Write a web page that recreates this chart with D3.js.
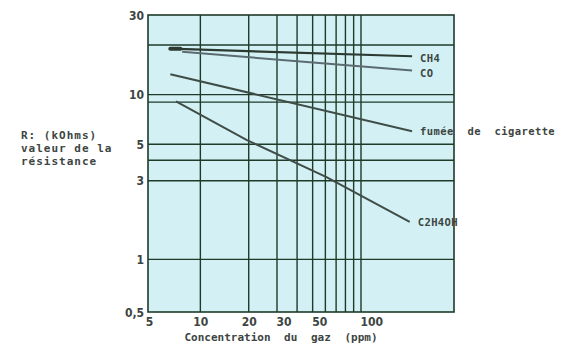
<!DOCTYPE html>
<html>
<head>
<meta charset="utf-8">
<script src="https://cdn.jsdelivr.net/npm/d3@7"></script>
<style>
	body { margin: 0; background: #fff; }
	svg { display: block; }
</style>
</head>
<body>
<svg id="chart" width="574" height="349"></svg>
<script>

// Data

var gasNames = ["CH4", "CO", "fumée de cigarette", "C2H4OH"];

var ch4Conc = [6.5, 208];
var ch4Res = [19.0, 17.1];

var coConc = [7.7, 208];
var coRes = [18.2, 14.0];

var smokeConc = [6.5, 208];
var smokeRes = [13.3, 6.0];

var alcoholConc = [7.05, 19.5, 61, 201];
var alcoholRes = [9.1, 5.3, 3.16, 1.69];

var xTickValues = [5, 10, 20, 30, 50, 100];
var yTickValues = [0.5, 1, 3, 5, 10, 30];

var xGridValues = [10, 20, 30, 40, 50, 60, 70, 80, 90, 100];
var yGridValues = [1, 3, 4, 5, 9, 10, 20];

var series = [
	{name : gasNames[0], conc : ch4Conc, res : ch4Res, width : 2.2, color : "#2c3a31", dy : 6},
	{name : gasNames[1], conc : coConc, res : coRes, width : 2, color : "#5b6b70", dy : 6},
	{name : gasNames[2], conc : smokeConc, res : smokeRes, width : 2, color : "#3f4d47", dy : 4},
	{name : gasNames[3], conc : alcoholConc, res : alcoholRes, width : 2, color : "#3f4d47", dy : 4}
];

var svg = d3.select("#chart");

// plot frame
var plotLeft = 148, plotRight = 454, plotTop = 15, plotBottom = 312;

var x = d3.scaleLog().domain([5, 100]).range([152, 361]);
var y = d3.scaleLog().domain([0.5, 30]).range([309, 16]);

var gridColor = "#1f3a29";
var textColor = "#3d4542";

// Background

svg.append("rect")
.attr("x", plotLeft)
.attr("y", plotTop)
.attr("width", plotRight - plotLeft)
.attr("height", plotBottom - plotTop)
.attr("fill", "#d3f1f5");

// Grid

svg.append("g").selectAll("line")
.data(xGridValues)
.enter().append("line")
.attr("x1", function (d) { return x(d); })
.attr("x2", function (d) { return x(d); })
.attr("y1", plotTop)
.attr("y2", plotBottom)
.attr("stroke", gridColor)
.attr("stroke-width", 1.4);

svg.append("g").selectAll("line")
.data(yGridValues)
.enter().append("line")
.attr("x1", plotLeft)
.attr("x2", plotRight)
.attr("y1", function (d) { return y(d); })
.attr("y2", function (d) { return y(d); })
.attr("stroke", gridColor)
.attr("stroke-width", 1.4);

// Frame

svg.append("rect")
.attr("x", plotLeft)
.attr("y", plotTop)
.attr("width", plotRight - plotLeft)
.attr("height", plotBottom - plotTop)
.attr("fill", "none")
.attr("stroke", gridColor)
.attr("stroke-width", 1.6);

// Axes

var fmt = function (d) { return String(d).replace(".", ","); };

var xAxis = svg.append("g")
.attr("transform", "translate(0," + plotBottom + ")")
.call(d3.axisBottom(x).tickValues(xTickValues).tickFormat(fmt).tickSize(0).tickPadding(5));

xAxis.selectAll(".tick text")
.attr("text-anchor", function (d) { return d >= 30 ? "start" : "middle"; })
.attr("dx", function (d) { return d >= 30 ? -1 : (d == 5 ? -3 : 0); });

var yAxis = svg.append("g")
.attr("transform", "translate(" + plotLeft + ",0)")
.call(d3.axisLeft(y).tickValues(yTickValues).tickFormat(fmt).tickSize(0).tickPadding(4));

yAxis.selectAll(".tick text")
.attr("dy", function (d) { return d == 0.5 ? "0.6em" : "0.32em"; });

svg.selectAll(".domain").remove();

svg.selectAll(".tick text")
.attr("fill", textColor)
.style("font-family", "DejaVu Sans Condensed")
.style("font-size", "12px")
.style("font-weight", "bold");

// Curves

var line = d3.line()
.x(function (d) { return x(d[0]); })
.y(function (d) { return y(d[1]); });

var curves = svg.append("g").selectAll("g")
.data(series)
.enter().append("g");

curves.append("path")
.attr("d", function (s) { return line(d3.zip(s.conc, s.res)); })
.attr("fill", "none")
.attr("stroke", function (s) { return s.color; })
.attr("stroke-width", function (s) { return s.width; });

curves.append("text")
.attr("x", function (s) { return x(s.conc[s.conc.length - 1]) + 8; })
.attr("y", function (s) { return y(s.res[s.res.length - 1]) + s.dy; })
.attr("fill", textColor)
.style("font-family", "DejaVu Sans Mono")
.style("font-size", "10.5px")
.style("font-weight", "bold")
.style("letter-spacing", "0.4px")
.style("word-spacing", "7px")
.text(function (s) { return s.name; });

// thick start of the CH4 curve
svg.append("line")
.attr("x1", x(ch4Conc[0]))
.attr("x2", x(7.5))
.attr("y1", y(ch4Res[0]))
.attr("y2", y(ch4Res[0]))
.attr("stroke", "#2c3a31")
.attr("stroke-width", 4)
.attr("stroke-linecap", "round");

// Axis titles

svg.append("text")
.attr("x", 281)
.attr("y", 341)
.attr("text-anchor", "middle")
.attr("fill", textColor)
.style("font-family", "DejaVu Sans Mono")
.style("font-size", "11px")
.style("font-weight", "bold")
.style("word-spacing", "7px")
.text("Concentration du gaz (ppm)");

var yTitle = ["R: (kOhms)", "valeur de la", "résistance"];

svg.append("g").selectAll("text")
.data(yTitle)
.enter().append("text")
.attr("x", 21)
.attr("y", function (d, i) { return 139 + i * 13; })
.attr("fill", textColor)
.style("font-family", "DejaVu Sans Mono")
.style("font-size", "11px")
.style("font-weight", "bold")
.style("letter-spacing", "1px")
.text(function (d) { return d; });

</script>
</body>
</html>
